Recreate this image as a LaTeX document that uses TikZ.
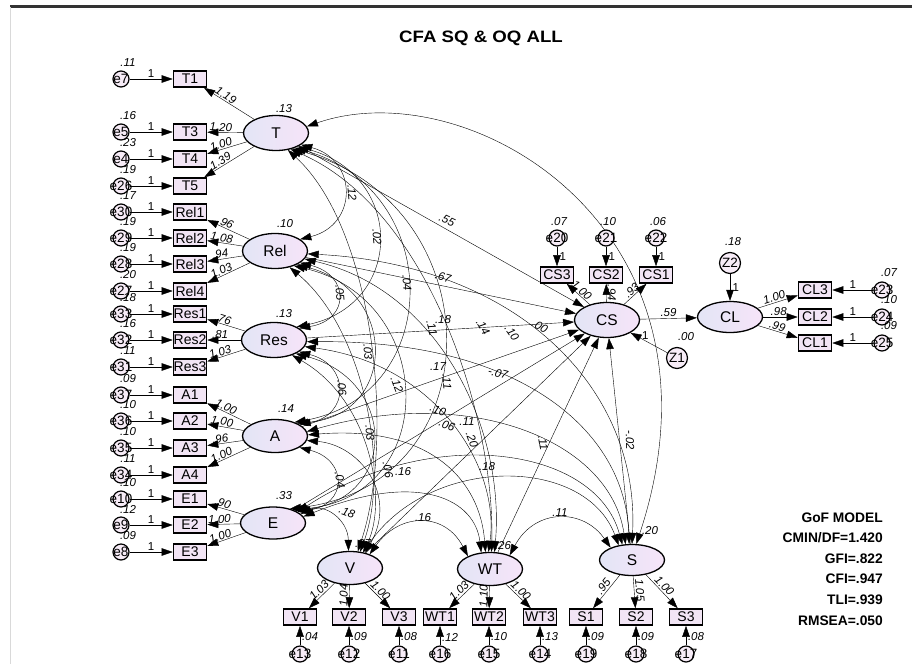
\documentclass[tikz,border=0pt]{standalone}
\usepackage{fontspec}
\setmainfont{Liberation Sans}
\usetikzlibrary{arrows.meta,shapes.geometric}
\definecolor{lavL}{HTML}{E3E5F6}
\definecolor{lavR}{HTML}{F6E4F8}
\definecolor{boxF}{HTML}{F2E5F5}
\definecolor{errF}{HTML}{F7ECF7}
\pgfdeclarelayer{bg}
\pgfdeclarelayer{paper}
\pgfsetlayers{paper,bg,main}
\begin{document}
\begin{tikzpicture}[x=1pt,y=-1pt,
  >={Triangle[length=11pt,width=7.5pt]},
  line width=1.5pt,
  lat/.style={ellipse,draw,line width=1.3pt,minimum width=65pt,minimum height=35pt,inner sep=0pt,left color=lavL,right color=lavR,font=\fontsize{15.5}{15.5}\selectfont},
  obs/.style={rectangle,draw,line width=1.6pt,minimum width=33pt,minimum height=16pt,inner sep=0pt,fill=boxF,font=\fontsize{14}{14}\selectfont},
  err/.style={circle,draw,line width=1.2pt,minimum size=16pt,inner sep=0pt,fill=errF},
  dist/.style={circle,draw,line width=1.2pt,minimum size=21pt,inner sep=0pt,fill=errF,font=\fontsize{13.5}{13.5}\selectfont},
  efont/.style={font=\fontsize{13.5}{13.5}\selectfont,inner sep=0pt},
  num/.style={font=\fontsize{11.5}{11.5}\selectfont\itshape,inner sep=0.5pt},
  one/.style={font=\fontsize{11.5}{11.5}\selectfont,inner sep=0.5pt},
  gof/.style={font=\bfseries\fontsize{13.8}{13.8}\selectfont,inner sep=0pt,anchor=base east}
]
\useasboundingbox (0,0) rectangle (912,664);
\begin{pgfonlayer}{paper}
\fill[white] (0,0) rectangle (912,664);
\draw[line width=3pt,black!80] (10,6) -- (912,6);
\draw[line width=0.6pt,black!15] (10,7) -- (10,664);
\end{pgfonlayer}

\node[font=\bfseries\fontsize{16.5}{16.5}\selectfont] (title) at (481,38) {\scalebox{1.13}[1]{CFA SQ \& OQ ALL}};

% latent variables
\node[lat] (T) at (276,133) {T};
\node[lat] (Rel) at (275,251) {Rel};
\node[lat] (Res) at (274,340) {Res};
\node[lat,minimum height=33pt] (A) at (275,436) {A};
\node[lat,minimum height=32pt] (E) at (273,523) {E};
\node[lat,minimum height=33pt] (V) at (350,568) {V};
\node[lat,minimum height=33pt] (WT) at (490,569) {WT};
\node[lat,minimum height=31pt] (S) at (632,560) {S};
\node[lat] (CS) at (607,320) {CS};
\node[lat,minimum height=31pt] (CL) at (730,317) {CL};

\node[num] (vT) at (284,109) {.13};
\node[num] (vRel) at (285,224) {.10};
\node[num] (vRes) at (284,314) {.13};
\node[num] (vA) at (286,409) {.14};
\node[num] (vE) at (284,496) {.33};
\node[num] (vV) at (363,543) {.27};
\node[num] (vWT) at (503,546) {.26};
\node[num] (vS) at (650,531) {.20};

% left indicators
\foreach \b/\y/\e/\v/\L/\l in {T1/79/e7/.11/T/1.19, T3/132/e5/.16/T/1.20, T4/159/e4/.23/T/1.00, T5/186/e26/.19/T/1.39, Rel1/212/e30/.17/Rel/.96, Rel2/238/e29/.19/Rel/1.08, Rel3/264/e28/.19/Rel/.94, Rel4/291/e27/.20/Rel/1.03, Res1/314/e33/.18/Res/.76, Res2/340/e32/.16/Res/.81, Res3/367/e31/.11/Res/1.03, A1/395/e37/.09/A/1.00, A2/421/e36/.10/A/1.00, A3/448/e35/.10/A/.96, A4/475/e34/.11/A/1.00, E1/499/e10/.10/E/.90, E2/525/e9/.12/E/1.00, E3/552/e8/.09/E/1.00}{
  \node[obs] (\b) at (190,\y) {\b};
  \node[err,label={[efont]center:\e}] (\e) at (121,\y) {};
  \node[num] (v\e) at (128,\y-16) {\v};
  \draw[->] (\e) -- (\b) node[one,midway,above=1pt] {1};
  \draw[->] (\L) -- (\b) node[num,pos=0.62,sloped,above=0.5pt] {\l};
}

% bottom indicators
\foreach \b/\x/\e/\v/\L/\l in {V1/300/e13/.04/V/1.03, V2/349/e12/.09/V/1.04, V3/399/e11/.08/V/1.00, WT1/440/e16/.12/WT/1.03, WT2/489/e15/.10/WT/1.10, WT3/540/e14/.13/WT/1.00, S1/586/e19/.09/S/.95, S2/636/e18/.09/S/1.05, S3/686/e17/.08/S/1.00}{
  \node[obs] (\b) at (\x,617) {\b};
  \node[err,label={[efont]center:\e}] (\e) at (\x,654) {};
  \node[num] (v\e) at (\x+10,637) {\v};
  \draw[->] (\e) -- (\b);
  \draw[->] (\L) -- (\b) node[num,pos=0.45,sloped,above=1pt] {\l};
}

% CS indicators
\foreach \b/\x/\e/\v/\l in {CS3/557/e20/.07/1.00, CS2/606/e21/.10/.94, CS1/656/e22/.06/.93}{
  \node[obs] (\b) at (\x,275) {\b};
  \node[err,label={[efont]center:\e}] (\e) at (\x,238) {};
  \node[num] (v\e) at (\x+2,222) {\v};
  \draw[->] (\e) -- (\b) node[one,midway,right=2pt] {1};
  \draw[->] (CS) -- (\b) node[num,pos=0.5,sloped,above=0.5pt] {\l};
}

% CL indicators
\foreach \b/\y/\e/\v/\l in {CL3/290/e23/.07/1.00, CL2/317/e24/.10/.98, CL1/343/e25/.09/.99}{
  \node[obs] (\b) at (815,\y) {\b};
  \node[err,label={[efont]center:\e}] (\e) at (882,\y) {};
  \node[num] (v\e) at (889,\y-17) {\v};
  \draw[->] (\e) -- (\b) node[one,midway,above=1pt] {1};
  \draw[->] (CL) -- (\b) node[num,pos=0.45,sloped,above=0.5pt] {\l};
}

% disturbances
\node[dist] (Z1) at (677,358) {Z1};
\node[num] (vZ1) at (686,337) {.00};
\draw[->] (Z1) -- (CS) node[one,pos=0.6,above=1pt] {1};
\node[dist] (Z2) at (730,263) {Z2};
\node[num] (vZ2) at (733,242) {.18};
\draw[->] (Z2) -- (CL) node[one,midway,right=2pt] {1};
\draw[->] (CS) -- (CL) node[num,midway,above=1pt] {.59};

\begin{pgfonlayer}{bg}
% regressions into CS
\foreach \L in {T,Rel,Res,A,E,V,WT,S} \draw[->] (\L) -- (CS);
% covariances among left factors
\draw[<->] (T.-25) .. controls (358,160) and (358,225) .. (Rel.25);
\draw[<->] (T.-32) .. controls (405,175) and (405,305) .. (Res.30);
\draw[<->] (T.-38) .. controls (445,190) and (445,395) .. (A.35);
\draw[<->] (T.-44) .. controls (495,205) and (495,485) .. (E.40);
\draw[<->] (Rel.-25) .. controls (350,275) and (350,320) .. (Res.25);
\draw[<->] (Rel.-32) .. controls (398,290) and (398,415) .. (A.30);
\draw[<->] (Rel.-38) .. controls (440,300) and (440,500) .. (E.35);
\draw[<->] (Res.-25) .. controls (350,365) and (350,415) .. (A.25);
\draw[<->] (Res.-32) .. controls (398,380) and (398,500) .. (E.30);
\draw[<->] (A.-25) .. controls (348,460) and (348,505) .. (E.25);
% covariances left - bottom
\draw[<->] (T.-55) .. controls (375,230) and (395,440) .. (V.65);
\draw[<->] (T.-48) .. controls (430,210) and (495,420) .. (WT.85);
\draw[<->] (T.12) .. controls (470,70) and (740,230) .. (S.75);
\draw[<->] (Rel.-48) .. controls (365,330) and (390,470) .. (V.58);
\draw[<->] (Rel.-15) .. controls (440,290) and (505,430) .. (WT.75);
\draw[<->] (Rel.-5) .. controls (520,265) and (640,390) .. (S.90);
\draw[<->] (Res.-40) .. controls (370,400) and (388,500) .. (V.50);
\draw[<->] (Res.-12) .. controls (440,365) and (500,470) .. (WT.95);
\draw[<->] (Res.-3) .. controls (520,340) and (625,430) .. (S.100);
\draw[<->] (A.-8) .. controls (360,445) and (398,495) .. (V.45);
\draw[<->] (A.2) .. controls (430,425) and (480,480) .. (WT.105);
\draw[<->] (A.8) .. controls (470,385) and (610,440) .. (S.112);
\draw[<->] (E.18) .. controls (325,503) and (348,520) .. (V.95);
\draw[<->] (E.12) .. controls (420,470) and (475,500) .. (WT.118);
\draw[<->] (E.24) .. controls (430,425) and (595,445) .. (S.122);
\draw[<->] (V.35) .. controls (400,512) and (445,512) .. (WT.150);
\draw[<->] (V.50) .. controls (430,455) and (585,455) .. (S.132);
\draw[<->] (WT.35) .. controls (535,508) and (583,508) .. (S.150);
\end{pgfonlayer}

% interior coefficient labels
\foreach \px/\py/\t/\r [count=\i] in {352/193/.12/-85, 377/237/.02/-85, 407/283/.04/-85, 447/220/.55/-25, 443/277/.67/-15, 340/293/.05/-85, 443/320/.18/0, 432/328/.11/-75, 483/327/.14/-60, 512/333/.10/-55, 540/326/.00/-30, 368/352/.03/-85, 342/388/.06/-85, 397/385/.12/-70, 438/367/.17/0, 447/382/.11/-85, 498/373/-.07/-15, 370/433/.03/-85, 438/410/.10/-20, 447/425/.06/-20, 467/422/.11/0, 472/440/.20/-70, 543/443/.11/-80, 630/440/-.02/-88, 340/480/.04/-80, 388/470/.06/-80, 403/472/.16/0, 487/467/.18/0, 347/512/.18/-20, 423/518/.16/0, 560/513/.11/0}{
  \node[num,rotate=\r] (c\i) at (\px,\py) {\t};
}

% goodness of fit
\node[gof] (g1) at (883,522) {GoF MODEL};
\node[gof] (g2) at (883,542.6) {CMIN/DF=1.420};
\node[gof] (g3) at (883,563.2) {GFI=.822};
\node[gof] (g4) at (883,583.8) {CFI=.947};
\node[gof] (g5) at (883,604.4) {TLI=.939};
\node[gof] (g6) at (883,625) {RMSEA=.050};
\end{tikzpicture}
\end{document}
